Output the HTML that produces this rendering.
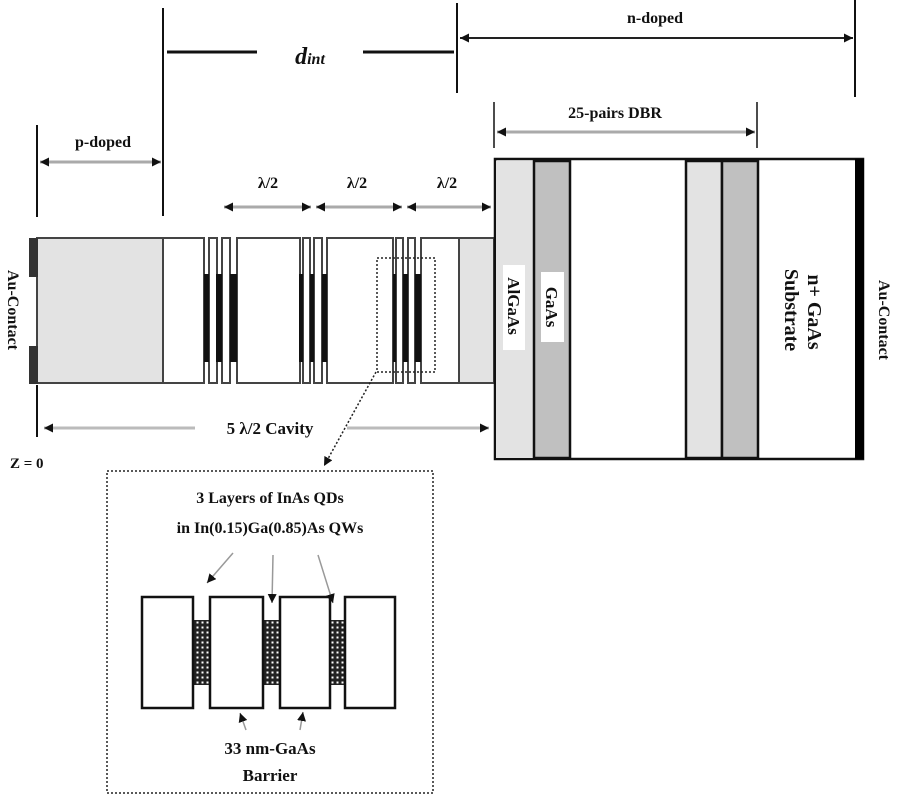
<!DOCTYPE html>
<html><head><meta charset="utf-8"><style>body{margin:0;background:#fff}svg{display:block}text{font-family:"Liberation Serif",serif;font-weight:bold;fill:#111}</style></head><body>
<svg width="900" height="800" viewBox="0 0 900 800" xmlns="http://www.w3.org/2000/svg">
<defs>
<marker id="a" viewBox="0 0 10 10" refX="10" refY="5" markerWidth="9" markerHeight="9" markerUnits="userSpaceOnUse" orient="auto-start-reverse"><path d="M0,0L10,5L0,10z" fill="#111"/></marker>
<pattern id="h" width="5" height="5" patternUnits="userSpaceOnUse"><rect width="5" height="5" fill="#222"/><rect x="1.5" y="1.5" width="2" height="2" fill="#fff"/></pattern>
</defs>
<g stroke="#111" stroke-width="2">
<line x1="37" y1="125" x2="37" y2="217"/>
<line x1="163" y1="8" x2="163" y2="216"/>
<line x1="457" y1="3" x2="457" y2="93"/>
<line x1="855" y1="0" x2="855" y2="97"/>
<line x1="494" y1="102" x2="494" y2="148" stroke-width="1.5"/>
<line x1="757" y1="102" x2="757" y2="148" stroke-width="1.5"/>
<line x1="167" y1="52" x2="257" y2="52" stroke-width="3"/>
<line x1="363" y1="52" x2="454" y2="52" stroke-width="3"/>
<line x1="37" y1="385" x2="37" y2="437"/>
</g>
<g stroke="#aaa" stroke-width="3" marker-start="url(#a)" marker-end="url(#a)">
<line x1="460" y1="38" x2="853" y2="38" stroke="#222" stroke-width="2"/>
<line x1="40" y1="162" x2="161" y2="162"/>
<line x1="497" y1="132" x2="755" y2="132"/>
<line x1="224" y1="207" x2="311" y2="207"/>
<line x1="316" y1="207" x2="402" y2="207"/>
<line x1="407" y1="207" x2="491" y2="207"/>
</g>
<line x1="44" y1="428" x2="195" y2="428" stroke="#bbb" stroke-width="3" marker-start="url(#a)"/>
<line x1="347" y1="428" x2="489" y2="428" stroke="#bbb" stroke-width="3" marker-end="url(#a)"/>
<text x="655" y="23" font-size="16" text-anchor="middle">n-doped</text>
<text x="310" y="64" font-size="24" font-style="italic" font-weight="normal" text-anchor="middle">d<tspan font-size="16">int</tspan></text>
<text x="103" y="147" font-size="16" text-anchor="middle">p-doped</text>
<text x="615" y="118" font-size="16" text-anchor="middle">25-pairs DBR</text>
<text x="268" y="188" font-size="16" text-anchor="middle">λ/2</text>
<text x="357" y="188" font-size="16" text-anchor="middle">λ/2</text>
<text x="447" y="188" font-size="16" text-anchor="middle">λ/2</text>
<text x="270" y="434" font-size="17" text-anchor="middle" font-weight="normal">5 λ/2  Cavity</text>
<text x="10" y="468" font-size="15">Z = 0</text>
<g stroke="#444" stroke-width="2">
<rect x="37" y="238" width="126" height="145" fill="#e3e3e3"/>
<rect x="163" y="238" width="41" height="145" fill="#fff"/>
<rect x="209" y="238" width="8" height="145" fill="#fff"/>
<rect x="222" y="238" width="8" height="145" fill="#fff"/>
<rect x="237" y="238" width="63" height="145" fill="#fff"/>
<rect x="303" y="238" width="7" height="145" fill="#fff"/>
<rect x="314" y="238" width="8" height="145" fill="#fff"/>
<rect x="327" y="238" width="66" height="145" fill="#fff"/>
<rect x="396" y="238" width="7" height="145" fill="#fff"/>
<rect x="408" y="238" width="7" height="145" fill="#fff"/>
<rect x="421" y="238" width="38" height="145" fill="#fff"/>
<rect x="459" y="238" width="35" height="145" fill="#e3e3e3"/>
</g>
<g fill="#111">
<rect x="204" y="274" width="5" height="88"/><rect x="216" y="274" width="6" height="88"/><rect x="230" y="274" width="7" height="88"/>
<rect x="299" y="274" width="4" height="88"/><rect x="310" y="274" width="4" height="88"/><rect x="322" y="274" width="5" height="88"/>
<rect x="393" y="274" width="3" height="88"/><rect x="403" y="274" width="5" height="88"/><rect x="415" y="274" width="6" height="88"/>
<rect x="29" y="238" width="9" height="39" fill="#333"/><rect x="29" y="346" width="9" height="38" fill="#333"/>
</g>
<rect x="377" y="258" width="58" height="114" fill="none" stroke="#222" stroke-width="1.5" stroke-dasharray="2,2"/>
<line x1="376" y1="372" x2="324" y2="466" stroke="#222" stroke-width="1.5" stroke-dasharray="2,2" marker-end="url(#a)"/>
<text transform="translate(8,310) rotate(90)" font-size="16" text-anchor="middle">Au-Contact</text>
<g stroke="#111" stroke-width="2.5">
<rect x="495" y="159" width="368" height="300" fill="#fff"/>
<rect x="496" y="161" width="38" height="297" fill="#e3e3e3" stroke="none"/>
<rect x="534" y="161" width="36" height="297" fill="#c0c0c0"/>
<rect x="686" y="161" width="36" height="297" fill="#e3e3e3"/>
<rect x="722" y="161" width="36" height="297" fill="#c0c0c0"/>
</g>
<rect x="855" y="159" width="9" height="300" fill="#000"/>
<rect x="503" y="265" width="22" height="85" fill="#fff"/>
<rect x="541" y="272" width="23" height="70" fill="#fff"/>
<text transform="translate(508,306) rotate(90)" font-size="17" text-anchor="middle">AlGaAs</text>
<text transform="translate(546,307) rotate(90)" font-size="17" text-anchor="middle">GaAs</text>
<text transform="translate(808,312) rotate(90)" font-size="20" text-anchor="middle">n+ GaAs</text>
<text transform="translate(785,310) rotate(90)" font-size="20" text-anchor="middle" fill="#112">Substrate</text>
<text transform="translate(879,320) rotate(90)" font-size="16" text-anchor="middle">Au-Contact</text>
<rect x="107" y="471" width="326" height="322" fill="none" stroke="#222" stroke-width="1.5" stroke-dasharray="2,2"/>
<text x="270" y="503" font-size="16" text-anchor="middle">3 Layers of InAs QDs</text>
<text x="270" y="533" font-size="16" text-anchor="middle">in In(0.15)Ga(0.85)As QWs</text>
<g fill="url(#h)"><rect x="193" y="620" width="17" height="65"/><rect x="263" y="620" width="17" height="65"/><rect x="330" y="620" width="15" height="65"/></g>
<g stroke="#111" stroke-width="2.5" fill="#fff">
<rect x="142" y="597" width="51" height="111"/><rect x="210" y="597" width="53" height="111"/><rect x="280" y="597" width="50" height="111"/><rect x="345" y="597" width="50" height="111"/>
</g>
<g stroke="#999" stroke-width="1.5" marker-end="url(#a)">
<line x1="233" y1="553" x2="207" y2="583"/><line x1="273" y1="555" x2="272" y2="603"/><line x1="318" y1="555" x2="333" y2="603"/>
<line x1="246" y1="730" x2="240" y2="713"/><line x1="300" y1="730" x2="303" y2="712"/>
</g>
<text x="270" y="754" font-size="17" text-anchor="middle">33 nm-GaAs</text>
<text x="270" y="781" font-size="17" text-anchor="middle">Barrier</text>
</svg>
</body></html>
